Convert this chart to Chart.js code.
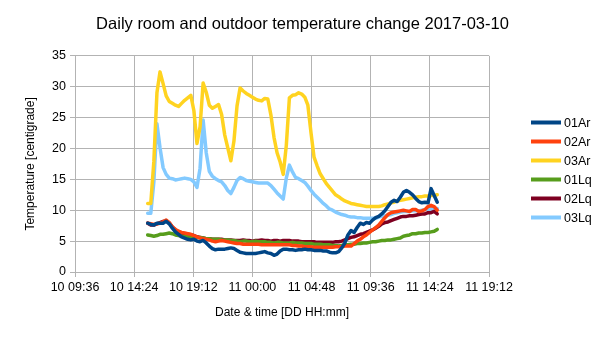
<!doctype html>
<html lang="en">
  <head>
    <meta charset="UTF-8" />
    <title>Daily room and outdoor temperature change 2017-03-10</title>
    <script src="https://cdn.jsdelivr.net/npm/chart.js"></script>
    <style>
      body {
        margin: 0;
        background: #fff;
      }
    </style>
  </head>
  <body>
    <canvas id="tempChart" width="605" height="340"></canvas>

    <script>
      // readings every 15 minutes, time in hours counted from 10 00:00
      const firstReading = 15.5;
      const readingStep = 0.25;

      // x axis ticks run every 4.8 h from 10 09:36 to 11 19:12
      const axisStart = 9.6;
      const axisEnd = 43.2;
      const axisStep = 4.8;

      const seriesNames = ["01Ar", "02Ar", "03Ar", "01Lq", "02Lq", "03Lq"];
      const seriesColors = ["#004586", "#ff420e", "#ffd320", "#579d1c", "#7e0021", "#83caff"];

      const temp01Ar = [
        7.9, 7.7, 7.6, 7.9, 7.9, 7.9, 8.2, 7.8, 7.1, 6.5,
        6.1, 5.7, 5.5, 5.3, 5.2, 5.3, 5.0, 4.9, 5.1, 4.7,
        4.2, 3.8, 3.6, 3.7, 3.7, 3.7, 3.8, 3.9, 3.8, 3.5,
        3.2, 3.1, 3.0, 3.0, 3.0, 3.0, 3.1, 3.2, 3.3, 3.1,
        3.0, 2.7, 2.9, 3.4, 3.7, 3.7, 3.6, 3.6, 3.5, 3.6,
        3.6, 3.7, 3.6, 3.6, 3.5, 3.5, 3.5, 3.4, 3.4, 3.2,
        3.1, 3.1, 3.3, 3.9, 4.7, 6.0, 6.7, 6.4, 7.2, 7.9,
        7.7, 8.0, 7.9, 8.4, 8.8, 9.0, 9.4, 9.9, 10.6, 11.3,
        11.6, 11.4, 12.1, 12.9, 13.2, 12.9, 12.5, 11.9, 11.4, 11.2,
        11.3, 11.2, 13.5, 12.4, 11.3
      ];
      const temp02Ar = [
        7.9, 7.8, 7.7, 7.8, 7.9, 8.1, 8.4, 8.0, 7.3, 6.9,
        6.6, 6.4, 6.3, 6.2, 6.1, 5.9, 5.7, 5.5, 5.4, 5.3,
        5.2, 5.0, 4.9, 5.0, 5.1, 5.0, 4.9, 4.8, 4.7, 4.6,
        4.6, 4.5, 4.5, 4.5, 4.5, 4.5, 4.5, 4.4, 4.4, 4.4,
        4.4, 4.4, 4.4, 4.4, 4.4, 4.4, 4.4, 4.3, 4.3, 4.2,
        4.2, 4.1, 4.1, 4.1, 4.0, 4.0, 4.0, 4.0, 4.0, 4.0,
        4.0, 4.1, 4.1, 4.1, 4.2, 4.2, 4.2, 4.6, 5.0, 5.3,
        5.7, 6.0, 6.4, 6.8, 7.2, 7.6, 8.2, 8.8, 9.3, 9.6,
        9.7, 9.8, 9.9, 10.0, 9.9, 9.8, 10.1, 10.1, 9.8, 9.9,
        10.1, 10.6, 10.8, 10.6, 10.0
      ];
      const temp03Ar = [
        11.1, 11.1, 17.9, 29.0, 32.4, 30.5, 28.5, 27.6, 27.3, 27.0,
        26.8, 27.3, 27.8, 28.2, 28.6, 26.1, 20.8, 23.5, 30.6, 29.1,
        27.0, 26.5, 26.8, 27.1, 25.5, 22.2, 20.1, 18.0, 21.2, 26.9,
        29.8, 29.3, 28.9, 28.6, 28.3, 28.0, 27.8, 27.7, 28.1, 28.0,
        25.4, 21.8, 19.3, 17.8, 15.8, 20.5, 28.2, 28.6, 28.7, 29.0,
        28.8, 28.3, 27.0, 22.6, 18.6, 17.2, 15.9, 15.1, 14.3, 13.7,
        13.1, 12.5, 12.2, 11.8, 11.5, 11.3, 11.1, 11.0, 10.9, 10.8,
        10.7, 10.6, 10.6, 10.6, 10.6, 10.6, 10.7, 10.9, 11.0, 11.2,
        11.3, 11.5, 11.6, 11.7, 11.8, 11.9, 12.0, 12.1, 12.2, 12.2,
        12.3, 12.3, 12.4, 12.4, 12.5
      ];
      const temp01Lq = [
        6.0, 5.9, 5.8, 5.9, 6.1, 6.1, 6.2, 6.3, 6.2, 6.0,
        5.9, 5.8, 5.8, 5.7, 5.7, 5.7, 5.6, 5.6, 5.5, 5.4,
        5.4, 5.3, 5.3, 5.3, 5.2, 5.2, 5.2, 5.1, 5.1, 5.0,
        4.9, 5.0, 5.0, 4.9, 4.9, 5.0, 4.9, 4.9, 4.9, 4.8,
        4.8, 4.7, 4.8, 4.8, 4.7, 4.7, 4.7, 4.8, 4.7, 4.7,
        4.7, 4.6, 4.6, 4.6, 4.5, 4.5, 4.5, 4.4, 4.4, 4.4,
        4.3, 4.3, 4.2, 4.3, 4.4, 4.4, 4.5, 4.5, 4.6, 4.6,
        4.7, 4.7, 4.8, 4.9, 4.9, 5.0, 5.1, 5.1, 5.2, 5.2,
        5.3, 5.4, 5.5, 5.8, 5.9, 6.0, 6.2, 6.2, 6.3, 6.3,
        6.4, 6.4, 6.5, 6.6, 6.9
      ];
      const temp02Lq = [
        7.9, 7.6, 7.6, 7.8, 8.0, 8.2, 8.3, 7.9, 7.3, 6.8,
        6.5, 6.3, 6.2, 6.1, 6.0, 5.9, 5.7, 5.6, 5.5, 5.4,
        5.4, 5.3, 5.3, 5.3, 5.3, 5.2, 5.2, 5.2, 5.1, 5.1,
        5.1, 5.2, 5.1, 5.1, 5.0, 5.1, 5.1, 5.2, 5.1, 5.1,
        5.0, 5.1, 5.1, 5.0, 5.1, 5.1, 5.1, 5.0, 5.0, 5.0,
        4.9, 4.9, 4.9, 4.9, 4.9, 4.8, 4.8, 4.8, 4.8, 4.8,
        4.8, 4.9, 4.9, 5.0, 5.2, 5.4, 5.6, 5.7, 5.9, 6.1,
        6.2, 6.4, 6.6, 6.8, 7.1, 7.4, 7.8, 8.0, 8.1, 8.3,
        8.5, 8.7, 8.9, 9.0, 9.0, 9.1, 9.1, 9.2, 9.3, 9.4,
        9.4, 9.6, 9.6, 9.8, 9.4
      ];
      const temp03Lq = [
        9.5, 9.5, 14.6, 24.0, 20.1, 16.9, 15.8, 15.2, 15.1, 14.9,
        15.0, 15.1, 15.2, 15.1, 15.0, 14.6, 13.7, 16.8, 24.6, 19.3,
        16.3, 15.5, 15.1, 14.8, 14.6, 14.0, 13.2, 12.7, 13.7, 14.8,
        15.3, 15.1, 14.8, 14.7, 14.6, 14.5, 14.4, 14.4, 14.4, 14.4,
        14.0, 13.4, 12.8, 12.3, 11.8, 15.2, 17.3, 16.2, 15.3, 15.1,
        14.8, 14.5, 13.9, 13.2, 12.6, 12.1, 11.6, 11.1, 10.7, 10.2,
        10.0, 9.7, 9.5, 9.3, 9.2, 9.0, 8.9, 8.9, 8.8, 8.8,
        8.7, 8.7, 8.7, 8.7, 8.7, 8.9, 9.0, 9.1, 9.2, 9.3,
        9.5, 9.6, 9.7, 9.8, 9.8, 9.8, 9.9, 9.9, 9.9, 10.0,
        10.1, 10.2, 10.2, 10.3, 10.3
      ];

      const seriesValues = [temp01Ar, temp02Ar, temp03Ar, temp01Lq, temp02Lq, temp03Lq];

      function timeLabel(hours) {
        const mins = Math.round(hours * 60);
        const day = 10 + Math.floor(mins / 1440);
        const hh = String(Math.floor((mins % 1440) / 60)).padStart(2, "0");
        const mm = String(mins % 60).padStart(2, "0");
        return day + " " + hh + ":" + mm;
      }

      // legend drawn as short line samples to the right of the plot
      const lineLegend = {
        id: "lineLegend",
        afterDraw(chart) {
          const { ctx, chartArea } = chart;
          const sets = chart.data.datasets;
          const x = chartArea.right + 42;
          const mid = chart.height / 2;
          ctx.save();
          ctx.font = '12.5px "Liberation Sans", Arial, sans-serif';
          ctx.textBaseline = "middle";
          sets.forEach((ds, i) => {
            const y = mid + (i - (sets.length - 1) / 2) * 19;
            ctx.strokeStyle = ds.borderColor;
            ctx.lineWidth = 4;
            ctx.beginPath();
            ctx.moveTo(x, y);
            ctx.lineTo(x + 30, y);
            ctx.stroke();
            ctx.fillStyle = "#000";
            ctx.fillText(ds.label, x + 33, y + 1);
          });
          ctx.restore();
        },
      };

      Chart.defaults.font.family = '"Liberation Sans", Arial, sans-serif';
      Chart.defaults.color = "#000";

      const datasets = seriesNames.map((name, s) => ({
        label: name,
        data: seriesValues[s].map((v, i) => ({ x: firstReading + i * readingStep, y: v })),
        borderColor: seriesColors[s],
        backgroundColor: seriesColors[s],
        borderWidth: 3.5,
        borderJoinStyle: "round",
        borderCapStyle: "round",
        pointRadius: 0,
        tension: 0,
      }));

      new Chart(document.getElementById("tempChart"), {
        type: "line",
        data: { datasets },
        options: {
          responsive: false,
          animation: false,
          layout: { padding: { left: 0, right: 0, top: 0, bottom: 14 } },
          plugins: {
            legend: { display: false },
            tooltip: { enabled: false },
            title: {
              display: true,
              text: "Daily room and outdoor temperature change 2017-03-10",
              font: { size: 16.5, weight: "normal" },
              color: "#000",
              padding: { top: 15, bottom: 21 },
            },
          },
          scales: {
            x: {
              type: "linear",
              min: axisStart,
              max: axisEnd,
              ticks: {
                stepSize: axisStep,
                autoSkip: false,
                maxRotation: 0,
                padding: 3,
                font: { size: 12.5 },
                callback: (v) => timeLabel(v),
              },
              grid: { color: "#b3b3b3", tickLength: 5 },
              border: { color: "#b3b3b3" },
              title: {
                display: true,
                text: "Date & time [DD HH:mm]",
                font: { size: 12 },
                padding: { top: 4, bottom: 6 },
              },
              afterFit: (s) => {
                s.height = 54;
              },
            },
            y: {
              min: 0,
              max: 35,
              ticks: { stepSize: 5, padding: 4, font: { size: 12.5 } },
              grid: { color: "#b3b3b3", tickLength: 5 },
              border: { color: "#b3b3b3" },
              title: {
                display: true,
                text: "Temperature [centigrade]",
                font: { size: 12 },
                padding: { top: 23, bottom: 0 },
              },
              afterFit: (s) => {
                s.width = 75;
              },
            },
            // empty right-hand strip that holds the legend
            legendSpace: {
              position: "right",
              grid: { display: false },
              border: { display: false },
              ticks: { display: false },
              afterFit: (s) => {
                s.width = 116;
              },
            },
          },
        },
        plugins: [lineLegend],
      });
    </script>
  </body>
</html>
